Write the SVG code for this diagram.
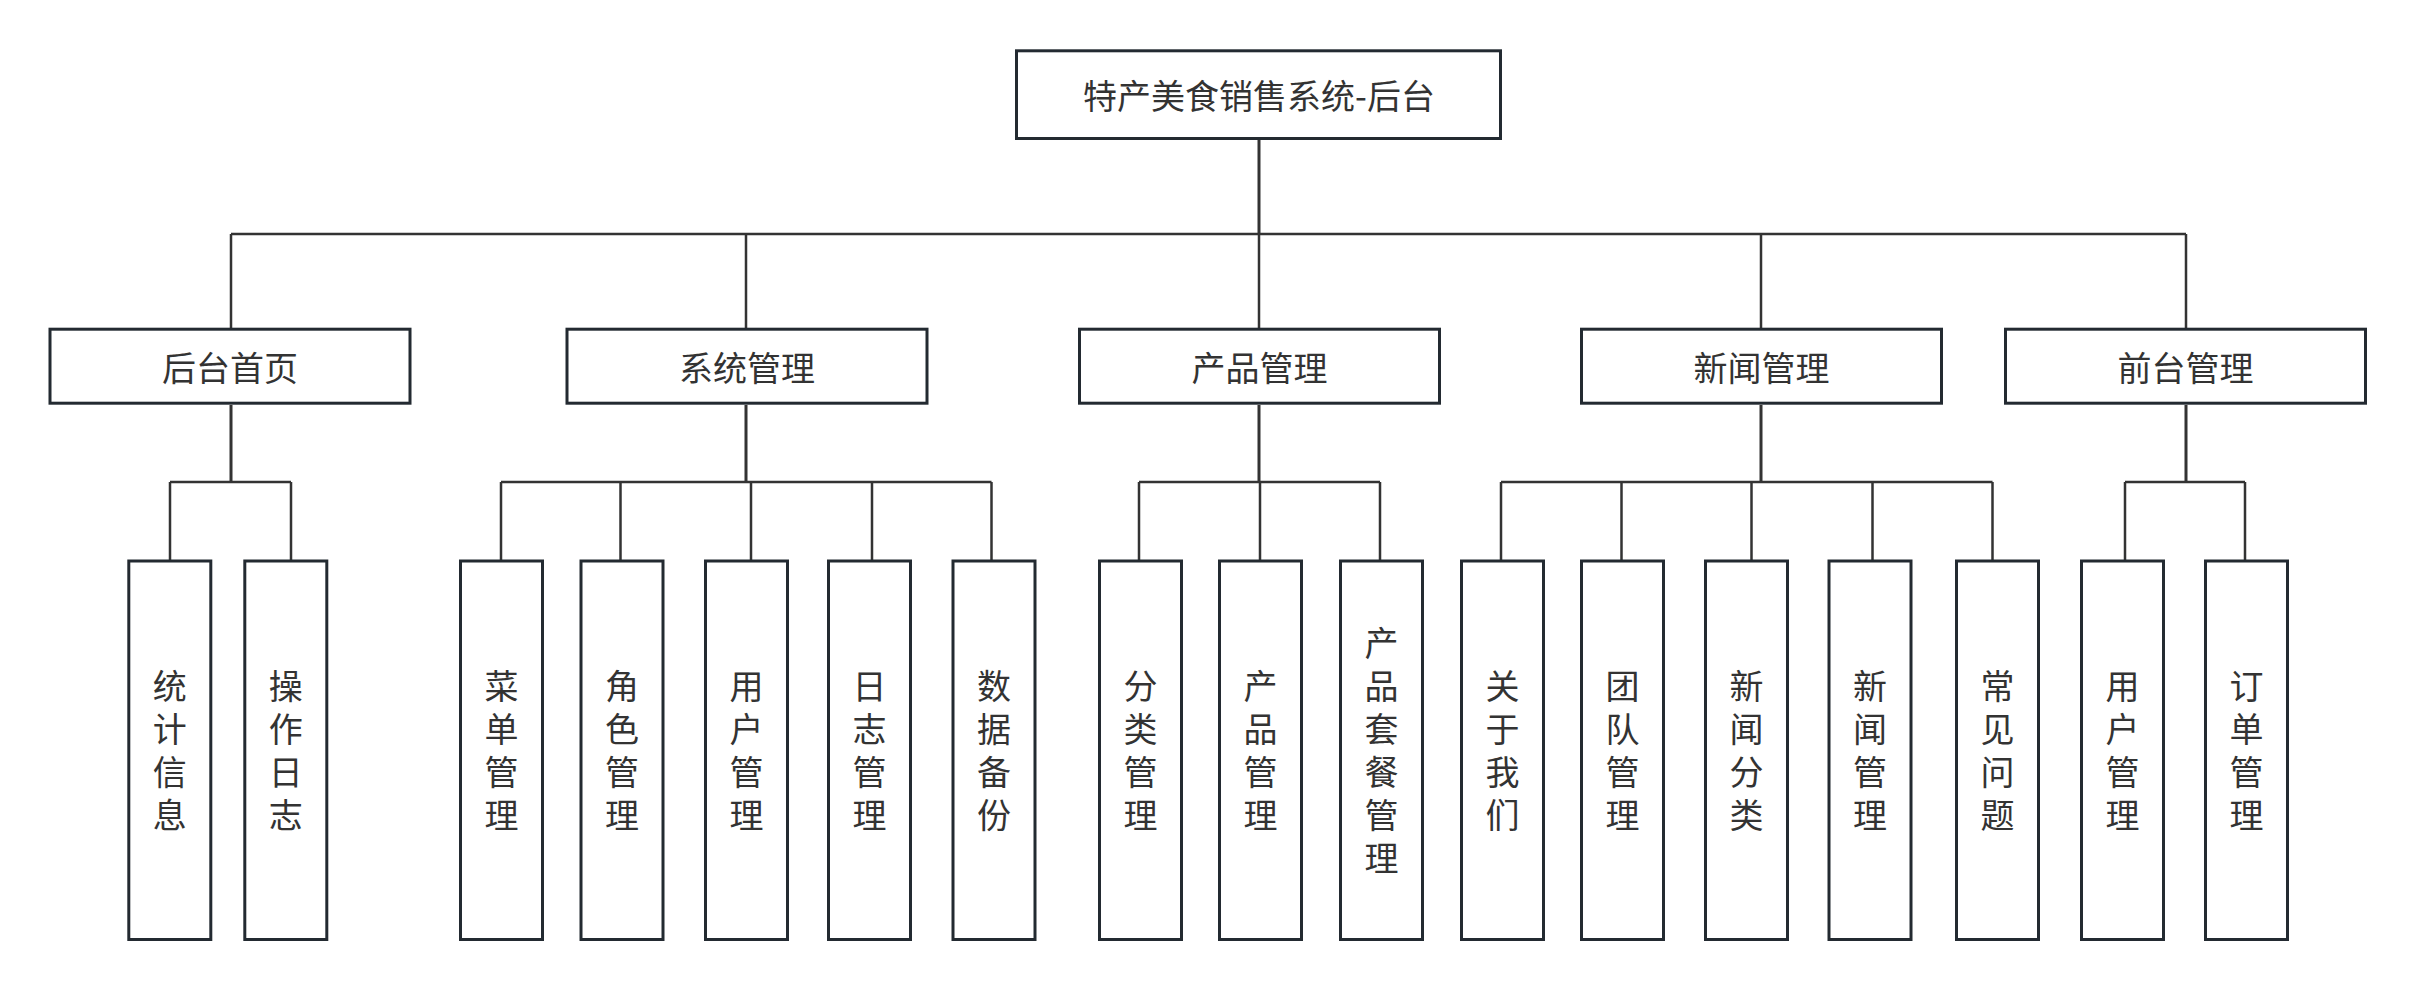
<svg xmlns="http://www.w3.org/2000/svg" width="2415" height="989" viewBox="0 0 2415 989">
<style>
.box{fill:#ffffff;stroke:#232a31;stroke-width:3}
.t{font-family:"Noto Sans CJK SC","Noto Sans",sans-serif;font-size:34px;fill:#333333;text-anchor:middle}
.v{font-family:"Noto Sans CJK SC","Noto Sans",sans-serif;font-size:34px;fill:#333333;text-anchor:middle;writing-mode:vertical-rl;letter-spacing:9px}
.c{fill:none;stroke:#333333;stroke-width:2.5}
.k{fill:none;stroke:#333333;stroke-width:3}
</style>
<rect width="2415" height="989" fill="#ffffff"/>
<g id="connectors">
<path class="k" d="M1259 140V234"/>
<path class="c" d="M231 234H2186M231 234V328M746 234V328M1259 234V328M1761 234V328M2186 234V328"/>
<path class="k" d="M231 405V482M746 405V482M1259 405V482M1761 405V482M2186 405V482"/>
<path class="c" d="M170 482H291M170 482V560M291 482V560"/>
<path class="c" d="M501 482H991.5M501 482V560M620.5 482V560M751 482V560M872 482V560M991.5 482V560"/>
<path class="c" d="M1139 482H1380M1139 482V560M1260 482V560M1380 482V560"/>
<path class="c" d="M1501 482H1992.5M1501 482V560M1621.5 482V560M1751.5 482V560M1872.5 482V560M1992.5 482V560"/>
<path class="c" d="M2125 482H2245M2125 482V560M2245 482V560"/>
</g>
<g id="root"><rect class="box" x="1016.5" y="50.8" width="484" height="87.7"/><text class="t" x="1259" y="109">特产美食销售系统-后台</text></g>
<g id="n-houtai"><rect class="box" x="50" y="329.2" width="360" height="74"/><text class="t" x="230" y="381">后台首页</text></g>
<g id="n-xitong"><rect class="box" x="567" y="329.2" width="360" height="74"/><text class="t" x="747" y="381">系统管理</text></g>
<g id="n-chanpin"><rect class="box" x="1079.5" y="329.2" width="360" height="74"/><text class="t" x="1259.5" y="381">产品管理</text></g>
<g id="n-xinwen"><rect class="box" x="1581.5" y="329.2" width="360" height="74"/><text class="t" x="1761.5" y="381">新闻管理</text></g>
<g id="n-qiantai"><rect class="box" x="2005.5" y="329.2" width="360" height="74"/><text class="t" x="2185.5" y="381">前台管理</text></g>
<g id="l1"><rect class="box" x="128.8" y="561" width="82" height="378.5"/><text class="v" x="169.8" y="755">统计信息</text></g>
<g id="l2"><rect class="box" x="244.8" y="561" width="82" height="378.5"/><text class="v" x="285.8" y="755">操作日志</text></g>
<g id="l3"><rect class="box" x="460.5" y="561" width="82" height="378.5"/><text class="v" x="501.5" y="755">菜单管理</text></g>
<g id="l4"><rect class="box" x="581" y="561" width="82" height="378.5"/><text class="v" x="622" y="755">角色管理</text></g>
<g id="l5"><rect class="box" x="705.5" y="561" width="82" height="378.5"/><text class="v" x="746.5" y="755">用户管理</text></g>
<g id="l6"><rect class="box" x="828.5" y="561" width="82" height="378.5"/><text class="v" x="869.5" y="755">日志管理</text></g>
<g id="l7"><rect class="box" x="953" y="561" width="82" height="378.5"/><text class="v" x="994" y="755">数据备份</text></g>
<g id="l8"><rect class="box" x="1099.5" y="561" width="82" height="378.5"/><text class="v" x="1140.5" y="755">分类管理</text></g>
<g id="l9"><rect class="box" x="1219.5" y="561" width="82" height="378.5"/><text class="v" x="1260.5" y="755">产品管理</text></g>
<g id="l10"><rect class="box" x="1340.5" y="561" width="82" height="378.5"/><text class="v" x="1381.5" y="755">产品套餐管理</text></g>
<g id="l11"><rect class="box" x="1461.5" y="561" width="82" height="378.5"/><text class="v" x="1502.5" y="755">关于我们</text></g>
<g id="l12"><rect class="box" x="1581.5" y="561" width="82" height="378.5"/><text class="v" x="1622.5" y="755">团队管理</text></g>
<g id="l13"><rect class="box" x="1705.5" y="561" width="82" height="378.5"/><text class="v" x="1746.5" y="755">新闻分类</text></g>
<g id="l14"><rect class="box" x="1829" y="561" width="82" height="378.5"/><text class="v" x="1870" y="755">新闻管理</text></g>
<g id="l15"><rect class="box" x="1956.5" y="561" width="82" height="378.5"/><text class="v" x="1997.5" y="755">常见问题</text></g>
<g id="l16"><rect class="box" x="2081.5" y="561" width="82" height="378.5"/><text class="v" x="2122.5" y="755">用户管理</text></g>
<g id="l17"><rect class="box" x="2205.5" y="561" width="82" height="378.5"/><text class="v" x="2246.5" y="755">订单管理</text></g>
</svg>
